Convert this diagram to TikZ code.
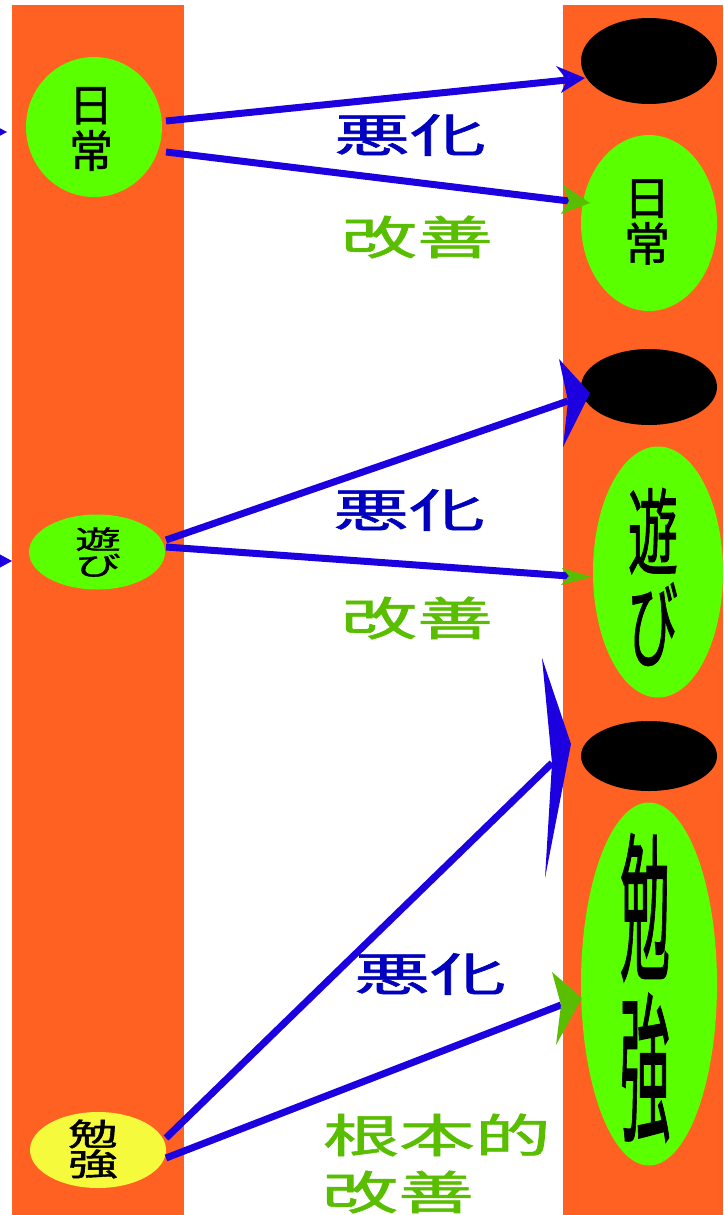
\documentclass[tikz,border=0pt]{standalone}
\usepackage{fontspec}
\usepackage{graphicx}
\newfontfamily\jp{Noto Sans CJK JP}[FakeBold=1.2]
\usetikzlibrary{shapes.geometric}
\definecolor{colorange}{HTML}{FF6122}
\definecolor{collime}{HTML}{5AFF00}
\definecolor{colyellow}{HTML}{F5FB3C}
\definecolor{colline}{HTML}{1C00E0}
\definecolor{collblue}{HTML}{0000BE}
\definecolor{collgreen}{HTML}{5ABE00}
\newcommand{\stk}[5]{\scalebox{#3}[#4]{\fontsize{#1}{#2}\selectfont\lineskiplimit=-1000pt\vbox{\halign{\hfil##\hfil\cr#5\cr}}}}
\tikzset{
  col/.style={fill=colorange, draw=none},
  blob/.style={ellipse, draw=none, inner sep=0pt},
  word/.style={inner sep=0pt, font=\jp},
  conn/.style={draw=colline, line width=7pt},
  headblue/.style={fill=colline, draw=none},
  headgreen/.style={fill=collgreen, draw=none},
}
\begin{document}
\begin{tikzpicture}[x=1pt,y=-1pt]
\useasboundingbox (0,0) rectangle (723,1215);
\clip (0,0) rectangle (723,1215);
\fill[white] (0,0) rectangle (723,1215);
% columns
\path[col] (12,5) rectangle (184,1215);
\path[col] (563,5) rectangle (723,1215);
% left ellipses
\node[blob, fill=collime, minimum width=136pt, minimum height=140pt] (L1) at (94,127) {};
\node[blob, fill=collime, minimum width=136pt, minimum height=75pt] (L2) at (97,552) {};
\node[blob, fill=colyellow, minimum width=136pt, minimum height=76pt] (L3) at (98,1150) {};
% right ellipses
\node[blob, fill=black, minimum width=136pt, minimum height=86pt] (B1) at (649,61) {};
\node[blob, fill=collime, minimum width=136pt, minimum height=176pt] (R1) at (649,223) {};
\node[blob, fill=black, minimum width=136pt, minimum height=76pt] (B2) at (649,387) {};
\node[blob, fill=collime, minimum width=130pt, minimum height=251pt] (R2) at (658,572) {};
\node[blob, fill=black, minimum width=136pt, minimum height=70pt] (B3) at (649,756) {};
\node[blob, fill=collime, minimum width=136pt, minimum height=363pt] (R3) at (649,984) {};
% texts in ellipses
\node[word] (tL1) at (91,129) {\stk{44}{46}{1}{1}{日\cr 常}};
\node[word] (tL2) at (98,552) {\stk{26}{26}{1.75}{1}{遊\cr び}};
\node[word] (tL3) at (93,1149) {\stk{31}{30}{1.6}{1}{勉\cr 強}};
\node[word] (tR1) at (647,222) {\stk{46}{46}{1}{1}{日\cr 常}};
\node[word] (tR2) at (653,577) {\stk{50}{49}{1}{1.88}{遊\cr び}};
\node[word] (tR3) at (645,988) {\stk{50}{50}{1}{3.2}{勉\cr 強}};
% labels
\node[word, text=collblue] (a1) at (410,135) {\stk{46}{46}{1.65}{1}{悪化}};
\node[word, text=collgreen] (k1) at (417,237) {\stk{46}{46}{1.65}{1}{改善}};
\node[word, text=collblue] (a2) at (409,510) {\stk{46}{46}{1.65}{1}{悪化}};
\node[word, text=collgreen] (k2) at (417,618) {\stk{46}{46}{1.65}{1}{改善}};
\node[word, text=collblue] (a3) at (430,974) {\stk{46}{46}{1.65}{1}{悪化}};
\node[word, text=collgreen] (k3a) at (437,1135) {\stk{46}{46}{1.65}{1}{根本的}};
\node[word, text=collgreen] (k3b) at (398,1192) {\stk{46}{46}{1.65}{1}{改善}};
% arrow 1
\coordinate (s1) at (166,121); \coordinate (n1) at (567,80);
\coordinate (t1) at (585,78); \coordinate (p1) at (556,66); \coordinate (q1) at (561,93);
\draw[conn] (s1) -- (n1);
\path[headblue] (t1) -- (p1) -- (n1) -- (q1) -- cycle;
% arrow 2
\coordinate (s2) at (166,152); \coordinate (n2) at (569,201);
\coordinate (t2) at (590,203); \coordinate (p2) at (563,185); \coordinate (q2) at (561,214);
\draw[conn] (s2) -- (n2);
\path[headgreen] (t2) -- (p2) -- (n2) -- (q2) -- cycle;
% arrow 3
\coordinate (s3) at (166,540); \coordinate (n3) at (568,401);
\coordinate (t3) at (590,393); \coordinate (p3) at (559,359); \coordinate (q3) at (563,447);
\draw[conn] (s3) -- (n3);
\path[headblue] (t3) -- (p3) -- (n3) -- (q3) -- cycle;
% arrow 4
\coordinate (s4) at (166,547); \coordinate (n4) at (569,576);
\coordinate (t4) at (592,577); \coordinate (p4) at (562,568); \coordinate (q4) at (561,585);
\draw[conn] (s4) -- (n4);
\path[headgreen] (t4) -- (p4) -- (n4) -- (q4) -- cycle;
% arrow 5
\coordinate (s5) at (166,1138); \coordinate (n5) at (552,763);
\coordinate (t5) at (571,744); \coordinate (p5) at (542,658); \coordinate (q5) at (545,878);
\draw[conn] (s5) -- (n5);
\path[headblue] (t5) -- (p5) -- (n5) -- (q5) -- cycle;
% arrow 6
\coordinate (s6) at (166,1158); \coordinate (n6) at (561,1005);
\coordinate (t6) at (582,998); \coordinate (p6) at (552,972); \coordinate (q6) at (556,1045);
\draw[conn] (s6) -- (n6);
\path[headgreen] (t6) -- (p6) -- (n6) -- (q6) -- cycle;
% incoming arrowheads at the left edge
\coordinate (e1) at (7,132); \coordinate (f1) at (-8,124); \coordinate (g1) at (-8,140);
\path[headblue] (e1) -- (f1) -- (g1) -- cycle;
\coordinate (e2) at (12,561); \coordinate (f2) at (-10,549); \coordinate (g2) at (-10,573);
\path[headblue] (e2) -- (f2) -- (g2) -- cycle;
\end{tikzpicture}
\end{document}
